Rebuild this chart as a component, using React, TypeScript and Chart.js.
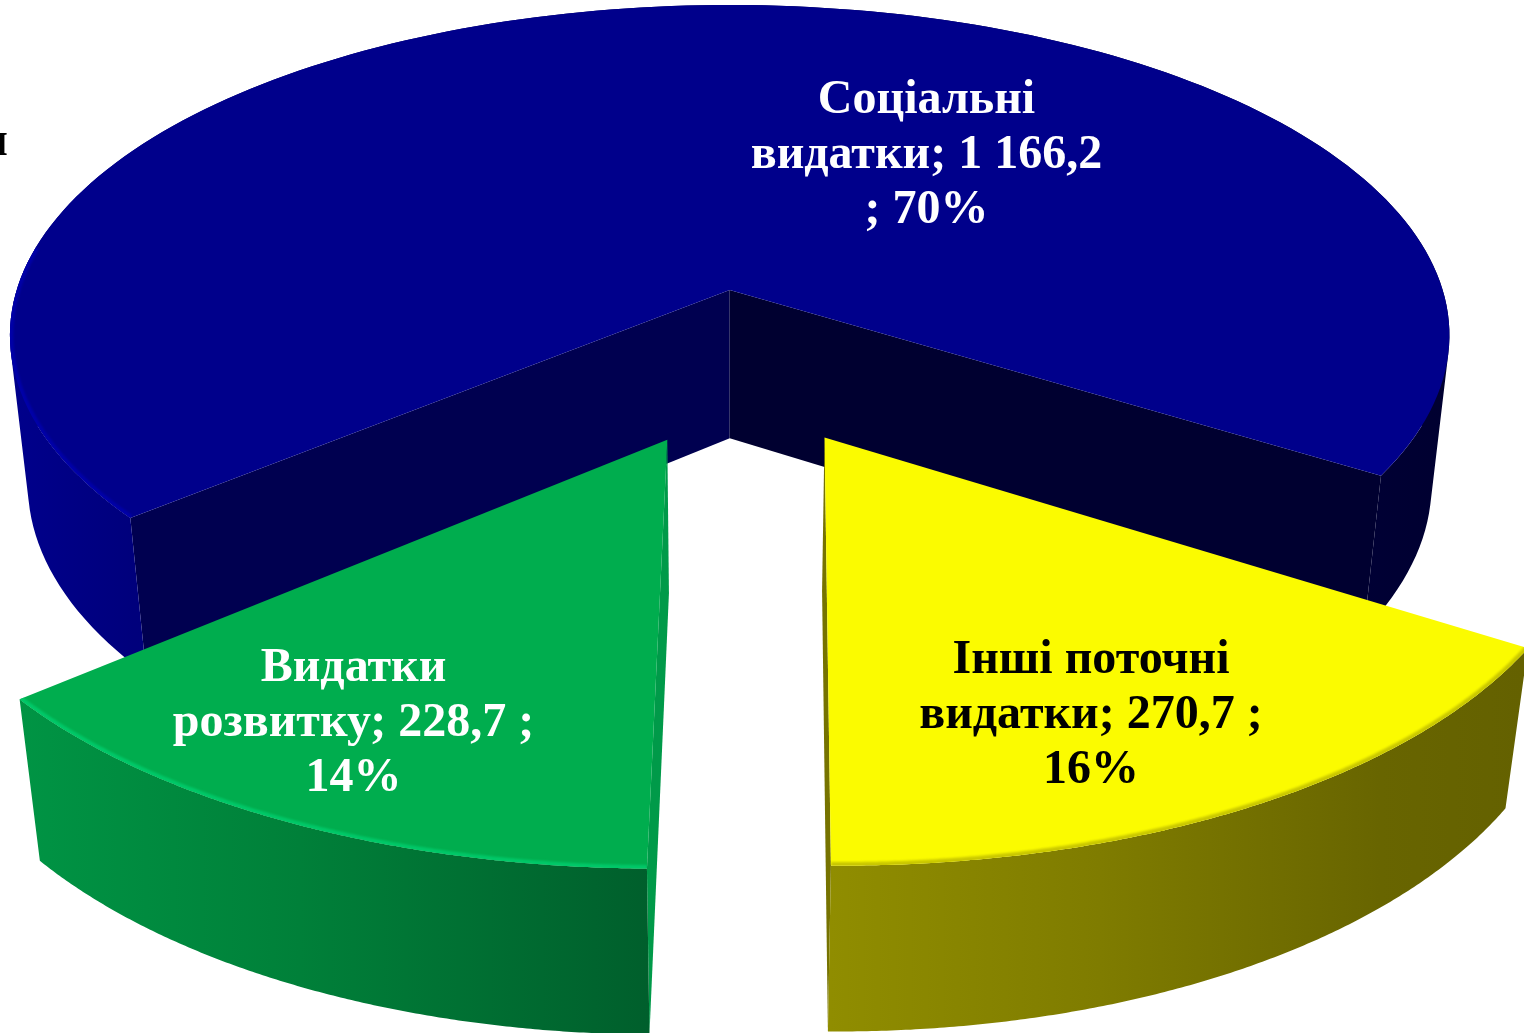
import React, { useEffect, useRef } from "react";
import { Chart, registerables } from "chart.js";

Chart.register(...registerables);

const categories = ["Соціальні видатки", "Інші поточні видатки", "Видатки розвитку"];
const values = [1166.2, 270.7, 228.7];
const labelLines = [
  ["Соціальні", "видатки; 1 166,2", "; 70%"],
  ["Інші поточні", "видатки; 270,7 ;", "16%"],
  ["Видатки", "розвитку; 228,7 ;", "14%"],
];
const topColors = ["#00008b", "#fbfb00", "#00ad4e"];
const rimColors = ["#0000a8", "#c9c700", "#00c868"];
const labelColors = ["#ffffff", "#000000", "#ffffff"];
const labelAnchors = [
  [926.5, 113],
  [1091, 673],
  [353.5, 681],
];
const wallStops: [number, string][][] = [
  [[10, "#00008c"], [135, "#00007c"], [1380, "#000034"], [1449, "#000030"]],
  [[830, "#908d00"], [1100, "#7f7c00"], [1380, "#686500"], [1524, "#646100"]],
  [[20, "#009444"], [300, "#008039"], [648, "#005f2c"]],
];
const startWallColors = ["#000050", "rgba(0,0,0,0)", "#009a49"];
const endWallColors = ["#000030", "#767300", "rgba(0,0,0,0)"];

// perspective camera, in units of the pie radius
const VIEW = { cx: 730.5, cy: 290, a: 713, b: 324, c: 152, k: 0.137, m: 0.025, ox: 0.0145, oy: 0.228 };

function project(X: number, Y: number, Z: number): [number, number] {
  const w = 1 - VIEW.k * Y + VIEW.m * Z;
  return [VIEW.cx + (VIEW.a * X) / w, VIEW.cy + (VIEW.b * Y + VIEW.c * Z) / w];
}

const pie3d = {
  id: "pie3d",
  beforeDatasetsDraw(chart: any) {
    const ctx: CanvasRenderingContext2D = chart.ctx;
    const arcs = chart.getDatasetMeta(0).data;
    const order = [0, 2, 1];
    for (const i of order) {
      const arc = arcs[i];
      const R = arc.outerRadius;
      const e = arc.options.offset / R;
      const mid = (arc.startAngle + arc.endAngle) / 2;
      const ax = VIEW.ox + e * Math.cos(mid);
      const ay = VIEW.oy + e * Math.sin(mid);
      const pt = (ang: number, Z: number) => project(ax + Math.cos(ang), ay + Math.sin(ang), Z);
      const apex = (Z: number) => project(ax, ay, Z);
      const n = 180;
      const angs: number[] = [];
      for (let j = 0; j <= n; j++) angs.push(arc.startAngle + ((arc.endAngle - arc.startAngle) * j) / n);
      const poly = (points: [number, number][]) => {
        ctx.beginPath();
        points.forEach((p, idx) => (idx ? ctx.lineTo(p[0], p[1]) : ctx.moveTo(p[0], p[1])));
        ctx.closePath();
      };
      // radial cut faces
      poly([apex(0), pt(arc.startAngle, 0), pt(arc.startAngle, 1), apex(1)]);
      ctx.fillStyle = startWallColors[i];
      ctx.fill();
      poly([apex(0), pt(arc.endAngle, 0), pt(arc.endAngle, 1), apex(1)]);
      ctx.fillStyle = endWallColors[i];
      ctx.fill();
      // outer rounded wall: all facets in one path, wound the same way so folds stay filled
      const stops = wallStops[i];
      const x0 = stops[0][0];
      const x1 = stops[stops.length - 1][0];
      const g = ctx.createLinearGradient(x0, 0, x1, 0);
      stops.forEach(([x, col]) => g.addColorStop((x - x0) / (x1 - x0), col));
      ctx.fillStyle = g;
      ctx.beginPath();
      for (let j = 0; j < n; j++) {
        let q = [pt(angs[j], 0), pt(angs[j + 1], 0), pt(angs[j + 1], 1), pt(angs[j], 1)];
        let area = 0;
        q.forEach((p, idx) => {
          const r = q[(idx + 1) % 4];
          area += p[0] * r[1] - r[0] * p[1];
        });
        if (area < 0) q = q.slice().reverse();
        q.forEach((p, idx) => (idx ? ctx.lineTo(p[0], p[1]) : ctx.moveTo(p[0], p[1])));
        ctx.closePath();
      }
      ctx.fill("nonzero");
      // top face
      poly([apex(0), ...angs.map((a) => pt(a, 0))]);
      ctx.fillStyle = topColors[i];
      ctx.fill();
      // soft bevel along the front rim
      ctx.save();
      poly([apex(0), ...angs.map((a) => pt(a, 0))]);
      ctx.clip();
      const onRim = (a: number) => Math.sin(a) > -0.15 && (i !== 0 || Math.cos(a) < 0);
      ctx.beginPath();
      angs.forEach((a, idx) => {
        const p = pt(a, 0);
        if (onRim(a)) {
          if (idx && onRim(angs[idx - 1])) ctx.lineTo(p[0], p[1]);
          else ctx.moveTo(p[0], p[1]);
        }
      });
      ctx.strokeStyle = rimColors[i];
      ctx.lineWidth = 7;
      ctx.filter = "blur(1px)";
      ctx.stroke();
      ctx.restore();
    }
    return false;
  },
  afterDraw(chart: any) {
    const ctx: CanvasRenderingContext2D = chart.ctx;
    ctx.save();
    ctx.font = 'bold 48px "Liberation Serif"';
    ctx.textAlign = "center";
    ctx.textBaseline = "alphabetic";
    labelLines.forEach((lines, i) => {
      ctx.fillStyle = labelColors[i];
      lines.forEach((line, j) => ctx.fillText(line, labelAnchors[i][0], labelAnchors[i][1] + j * 55));
    });
    ctx.fillStyle = "#000000";
    ctx.textAlign = "right";
    ctx.fillText("и", 8, 155);
    ctx.restore();
  },
};

export default function App() {
  const ref = useRef<HTMLCanvasElement | null>(null);
  useEffect(() => {
    const chart = new Chart(ref.current as HTMLCanvasElement, {
      type: "pie",
      data: {
        labels: categories,
        datasets: [{ data: values, backgroundColor: topColors, borderWidth: 0, offset: 106 }],
      },
      options: {
        animation: false,
        responsive: false,
        rotation: 230.05,
        layout: { padding: 0 },
        plugins: { legend: { display: false }, tooltip: { enabled: false } },
      },
      plugins: [pie3d],
    } as any);
    return () => chart.destroy();
  }, []);
  return (
    <div style={{ position: "fixed", left: 0, top: 0, width: 1524, height: 1033, background: "#fff", overflow: "hidden" }}>
      <canvas ref={ref} width={1524} height={1033} style={{ display: "block" }} />
    </div>
  );
}
